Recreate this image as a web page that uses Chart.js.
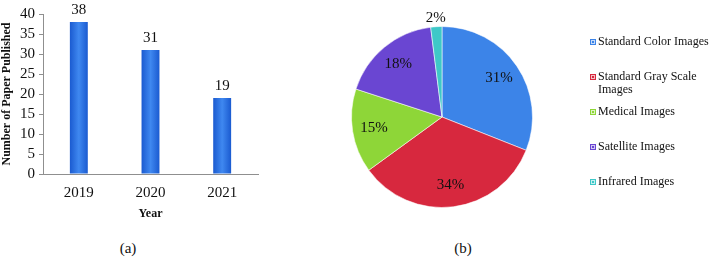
<!DOCTYPE html>
<html>
<head>
<meta charset="utf-8">
<script src="https://cdn.jsdelivr.net/npm/chart.js@4/dist/chart.umd.min.js"></script>
<style>
  html, body { margin: 0; padding: 0; background: #fff; }
  body { width: 709px; height: 258px; position: relative; overflow: hidden; font-family: "Liberation Serif", "Times New Roman", serif; }
  #barWrap { position: absolute; left: 0; top: 0; width: 270px; height: 226px; }
  #pieWrap { position: absolute; left: 270px; top: 0; width: 439px; height: 230px; }
  .cap { position: absolute; font-size: 15px; color: #111; transform: translate(-50%, -50%); white-space: nowrap; }
</style>
</head>
<body>
<div id="barWrap"><canvas id="bar"></canvas></div>
<div id="pieWrap"><canvas id="pie"></canvas></div>
<div class="cap" style="left:128px; top:248px;">(a)</div>
<div class="cap" style="left:463px; top:248px;">(b)</div>
<script>
// ---- data ----
const years = ['2019', '2020', '2021'];
const papersPublished = [38, 31, 19];
const yAxisMax = 40;
const yAxisStep = 5;
const imageTypes = ['Standard Color Images', 'Standard Gray Scale Images', 'Medical Images', 'Satellite Images', 'Infrared Images'];
const imageShares = [31, 34, 15, 18, 2];

const SERIF = '"Liberation Serif", "Times New Roman", serif';
const pieColors = ['#3c84e8', '#d7283e', '#8ed638', '#6a46d2', '#3ec8c8'];

// value labels above bars
const barValueLabels = {
  id: 'barValueLabels',
  afterDatasetsDraw(chart) {
    const ctx = chart.ctx;
    const meta = chart.getDatasetMeta(0);
    ctx.save();
    ctx.font = '15px ' + SERIF;
    ctx.fillStyle = '#111';
    ctx.textAlign = 'center';
    ctx.textBaseline = 'middle';
    meta.data.forEach((el, i) => {
      ctx.fillText(String(chart.data.datasets[0].data[i]), el.x, el.y - 12);
    });
    ctx.restore();
  }
};

new Chart(document.getElementById('bar'), {
  type: 'bar',
  data: {
    labels: years,
    datasets: [{
      data: papersPublished,
      backgroundColor(c) {
        const chart = c.chart;
        const xs = chart.scales.x;
        if (!chart.chartArea || !xs || c.dataIndex === undefined) return '#2f78e6';
        const cx = xs.getPixelForValue(c.dataIndex);
        const g = chart.ctx.createLinearGradient(cx - 9, 0, cx + 9, 0);
        g.addColorStop(0, '#1a5ad0');
        g.addColorStop(0.5, '#3f88f0');
        g.addColorStop(1, '#1a5ad0');
        return g;
      },
      borderWidth: 0,
      categoryPercentage: 1,
      barPercentage: 0.25
    }]
  },
  options: {
    responsive: true,
    maintainAspectRatio: false,
    animation: false,
    layout: { padding: { top: 14, right: 12, left: 0, bottom: 0 } },
    plugins: { legend: { display: false }, tooltip: { enabled: false } },
    scales: {
      x: {
        grid: { display: false, drawTicks: false },
        border: { display: true, color: '#8f8f8f', width: 1 },
        ticks: { color: '#111', font: { family: SERIF, size: 15 }, padding: 10 },
        title: { display: true, text: 'Year', color: '#111', font: { family: SERIF, size: 12, weight: 'bold' }, padding: { top: 2, bottom: 5 } },
        afterFit(s) { s.height = 52; }
      },
      y: {
        min: 0, max: yAxisMax,
        ticks: { stepSize: yAxisStep, autoSkip: false, color: '#111', font: { family: SERIF, size: 15 }, padding: 4 },
        grid: { drawOnChartArea: false, drawTicks: true, tickLength: 4, color: '#8f8f8f' },
        border: { display: true, color: '#8f8f8f', width: 1 },
        title: { display: true, text: 'Number of Paper Published', color: '#111', font: { family: SERIF, size: 12, weight: 'bold' }, padding: { top: 0, bottom: 0 } },
        afterFit(s) { s.width = 43; }
      }
    }
  },
  plugins: [barValueLabels]
});

// percentage labels on pie + legend
const pieExtras = {
  id: 'pieExtras',
  afterDatasetsDraw(chart) {
    const ctx = chart.ctx;
    const meta = chart.getDatasetMeta(0);
    const data = chart.data.datasets[0].data;
    const total = data.reduce((a, b) => a + b, 0);
    ctx.save();
    ctx.font = '15px ' + SERIF;
    ctx.fillStyle = '#111';
    ctx.textAlign = 'center';
    ctx.textBaseline = 'middle';
    meta.data.forEach((arc, i) => {
      const mid = (arc.startAngle + arc.endAngle) / 2;
      const small = data[i] / total < 0.05;
      const r = arc.outerRadius * (small ? 1.1 : 0.76);
      ctx.fillText(Math.round(data[i] / total * 100) + '%', arc.x + Math.cos(mid) * r, arc.y + Math.sin(mid) * r);
    });
    ctx.restore();
  },
  afterDraw(chart) {
    const ctx = chart.ctx;
    const labels = chart.data.labels;
    const colors = chart.data.datasets[0].backgroundColor;
    const boxX = 320, textX = 328, startY = 42, rowGap = 35, lineH = 13, maxW = 120;
    ctx.save();
    ctx.font = '12px ' + SERIF;
    ctx.textAlign = 'left';
    ctx.textBaseline = 'middle';
    labels.forEach((lab, i) => {
      const y = startY + i * rowGap;
      ctx.fillStyle = colors[i];
      ctx.fillRect(boxX, y - 3, 6, 6);
      ctx.strokeStyle = 'rgba(255,255,255,0.7)';
      ctx.lineWidth = 1;
      ctx.strokeRect(boxX + 1.5, y - 1.5, 3, 3);
      const words = lab.split(' ');
      const lines = [];
      let cur = '';
      words.forEach(w => {
        const t = cur ? cur + ' ' + w : w;
        if (ctx.measureText(t).width > maxW && cur) { lines.push(cur); cur = w; } else { cur = t; }
      });
      lines.push(cur);
      ctx.fillStyle = '#111';
      lines.forEach((ln, k) => ctx.fillText(ln, textX, y + k * lineH));
    });
    ctx.restore();
  }
};

new Chart(document.getElementById('pie'), {
  type: 'pie',
  data: {
    labels: imageTypes,
    datasets: [{
      data: imageShares,
      backgroundColor: pieColors,
      borderColor: 'rgba(255,255,255,0.55)',
      borderWidth: 1
    }]
  },
  options: {
    responsive: true,
    maintainAspectRatio: false,
    animation: false,
    layout: { padding: { left: 81, right: 176, top: 26, bottom: 22 } },
    plugins: { legend: { display: false }, tooltip: { enabled: false } }
  },
  plugins: [pieExtras]
});
</script>
</body>
</html>
